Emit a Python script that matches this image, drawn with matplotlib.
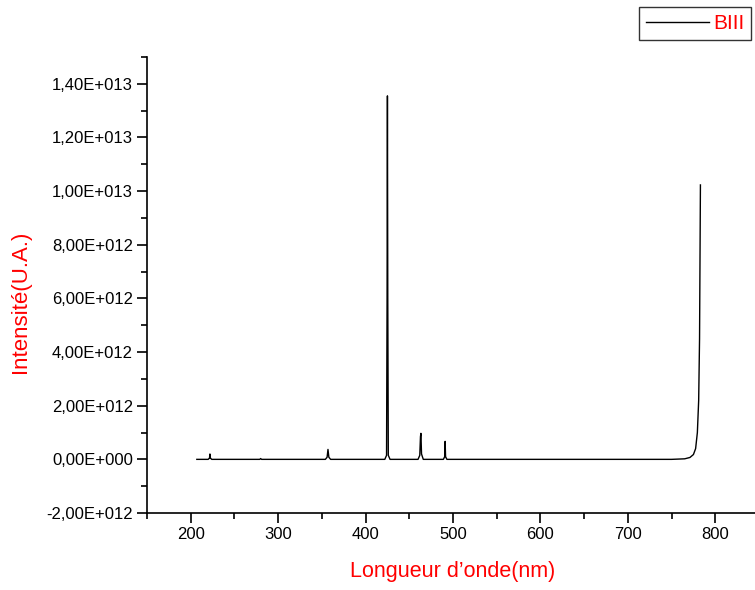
import matplotlib
matplotlib.use("Agg")
import matplotlib.pyplot as plt
from matplotlib.ticker import MultipleLocator, FuncFormatter

plt.rcParams['font.family'] = ['Liberation Sans', 'DejaVu Sans']

# spectre BIII (intensité en unités de 1e12)
longueur_onde = [207, 220, 221.5, 222, 222.5, 224, 279, 280, 281,
                 354, 356, 357, 358, 360, 422, 424, 424.6, 425, 425.4, 426, 428,
                 460, 462, 462.8, 463.3, 464, 466, 489, 490.5, 491, 491.5, 493,
                 750, 765, 771, 775, 777.5, 779.5, 781, 782, 783]
intensite = [0.0, 0.0, 0.05, 0.2, 0.05, 0.0, 0.0, 0.03, 0.0,
             0.0, 0.08, 0.37, 0.08, 0.0, 0.0, 0.15, 6.0, 13.55, 6.0, 0.15, 0.0,
             0.0, 0.15, 0.85, 0.97, 0.2, 0.0, 0.0, 0.1, 0.67, 0.1, 0.0,
             0.0, 0.02, 0.07, 0.18, 0.4, 1.0, 2.2, 4.5, 10.23]
intensite = [v * 1e12 for v in intensite]


def fmt_origin(v, pos):
    if abs(v) < 1:
        return "0,00E+000"
    exp = 0
    m = abs(v)
    while m >= 10:
        m /= 10
        exp += 1
    signe = "-" if v < 0 else ""
    return f"{signe}{m:.2f}".replace(".", ",") + f"E+{exp:03d}"


fig = plt.figure(figsize=(7.55, 5.9), dpi=100)
ax = fig.add_axes([0.1947, 0.1305, 0.8106, 0.7729])
ax.plot(longueur_onde, intensite, color='black', lw=1.0, label='BIII')

ax.set_xlim(150, 850)
ax.set_ylim(-2e12, 1.5e13)
ax.xaxis.set_major_locator(MultipleLocator(100))
ax.xaxis.set_minor_locator(MultipleLocator(50))
ax.yaxis.set_major_locator(MultipleLocator(2e12))
ax.yaxis.set_minor_locator(MultipleLocator(1e12))
ax.yaxis.set_major_formatter(FuncFormatter(fmt_origin))

for s in ['top', 'right']:
    ax.spines[s].set_visible(False)
for s in ['left', 'bottom']:
    ax.spines[s].set_linewidth(1.2)
ax.tick_params(which='major', direction='out', length=7, width=1.2, labelsize=12, pad=3)
ax.tick_params(which='minor', direction='out', length=4, width=1.2)

ax.set_xlabel("Longueur d’onde(nm)", color='red', fontsize=15.5, labelpad=14)
ax.set_ylabel("Intensité(U.A.)", color='red', fontsize=16)
ax.yaxis.set_label_coords(-0.19, 0.463)

leg = fig.legend(loc='upper right', bbox_to_anchor=(0.998, 0.992), fontsize=15,
                 frameon=True, fancybox=False, edgecolor='black', borderaxespad=0.1,
                 handlelength=3.0, borderpad=0.35, handletextpad=0.2)
leg.get_frame().set_linewidth(1.0)
for t in leg.get_texts():
    t.set_color('red')

fig.savefig("out.png", dpi=100)
